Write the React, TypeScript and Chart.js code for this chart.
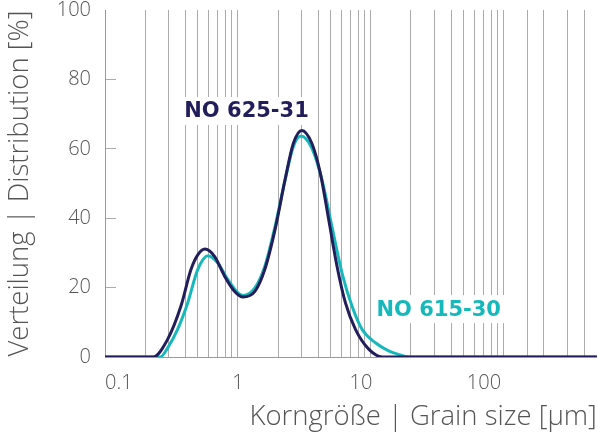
import React, { useEffect, useRef } from 'react';
import { Chart, registerables } from 'chart.js';

Chart.register(...registerables);

// Grain size (µm) and distribution (%) for each product
const navySizes = [0.1, 0.23, 0.295, 0.372, 0.443, 0.5, 0.565, 0.666, 0.793, 0.944, 1.09, 1.34, 1.59, 1.9, 2.26, 2.61, 3.02, 3.59, 4.16, 4.81, 5.56, 6.43, 7.66, 9.66, 12.2, 500];
const navyValues = [0, 0, 5, 14.6, 25.2, 29.5, 31.1, 29.0, 23.3, 18.9, 17.3, 18.9, 25.2, 36.7, 51.1, 61.6, 65.3, 61.6, 53, 39.6, 26.1, 15.6, 7.9, 2.2, 0, 0];

const tealSizes = [0.1, 0.26, 0.3, 0.35, 0.418, 0.498, 0.593, 0.705, 0.84, 1.09, 1.34, 1.59, 1.9, 2.26, 2.61, 2.98, 3.59, 4.28, 5.09, 6.06, 7.21, 8.59, 10.8, 13.7, 16.3, 19.5, 500];
const tealValues = [0, 0, 3.0, 7.8, 15.5, 25.2, 29.2, 27.1, 22.3, 17.7, 19.9, 26.1, 37.6, 51, 60.7, 63.7, 60.2, 51.1, 37.6, 24.2, 14.6, 7.9, 4.1, 1.7, 0.7, 0, 0];

const seriesNames = ['NO 625-31', 'NO 615-30'];

// Axis grid / tick values
const xGridValues = [0.1, 0.2, 0.3, 0.4, 0.5, 0.6, 0.7, 0.8, 0.9, 1, 2, 3, 4, 5, 6, 7, 8, 9, 10, 20, 30, 40, 50, 60, 70, 80, 90, 100, 150, 200, 300, 400];
const xLabelValues = [0.1, 1, 10, 100];
const xLabelTexts = ['0.1', '1', '10\u2003', '100\u2003\u2003'];
const yTickValues = [0, 20, 40, 60, 80, 100];

// Series name labels anchored in data coordinates (µm, %)
const labelSizes = [1.16, 32.3];
const labelPercents = [70.9, 13.8];

const NAVY = '#221d5b';
const TEAL = '#17b8bb';
const GRID = '#ababab';
const TEXT = '#555555';
const FONT = "'Open Sans', 'DejaVu Sans', sans-serif";

const seriesLabelPlugin = {
  id: 'seriesLabelPlugin',
  beforeDatasetsDraw(chart: any) {
    const { ctx, scales } = chart;
    const colors = [NAVY, TEAL];
    ctx.save();
    ctx.font = "bold 21px 'DejaVu Sans', sans-serif";
    ctx.textAlign = 'center';
    ctx.textBaseline = 'middle';
    seriesNames.forEach((name, i) => {
      const cx = scales.x.getPixelForValue(labelSizes[i]);
      const cy = scales.y.getPixelForValue(labelPercents[i]);
      const w = ctx.measureText(name).width;
      ctx.fillStyle = '#ffffff';
      ctx.fillRect(cx - w / 2 - 4, cy - 14, w + 8, 28);
      ctx.fillStyle = colors[i];
      ctx.fillText(name, cx, cy + 1);
    });
    ctx.restore();
  },
};

export default function App() {
  const canvasRef = useRef<HTMLCanvasElement | null>(null);

  useEffect(() => {
    if (!canvasRef.current) return;
    const chart = new Chart(canvasRef.current, {
      type: 'line',
      data: {
        datasets: [
          {
            label: seriesNames[0],
            data: navySizes.map((x, i) => ({ x, y: navyValues[i] })),
            borderColor: NAVY,
            borderWidth: 3,
            pointRadius: 0,
            cubicInterpolationMode: 'monotone',
            fill: false,
          },
          {
            label: seriesNames[1],
            data: tealSizes.map((x, i) => ({ x, y: tealValues[i] })),
            borderColor: TEAL,
            borderWidth: 3,
            pointRadius: 0,
            cubicInterpolationMode: 'monotone',
            fill: false,
          },
        ],
      },
      options: {
        responsive: false,
        animation: false,
        layout: { padding: { top: 10, right: 0, bottom: 0, left: 0 } },
        plugins: {
          legend: { display: false },
          tooltip: { enabled: false },
        },
        scales: {
          x: {
            type: 'logarithmic',
            min: 0.1,
            max: 500,
            afterBuildTicks: (s: any) => {
              s.ticks = xGridValues.map((v) => ({ value: v }));
            },
            afterFit: (s: any) => {
              s.height = 80;
            },
            grid: { color: GRID, lineWidth: 1, drawTicks: false },
            border: { color: '#999999', width: 1 },
            ticks: {
              autoSkip: false,
              maxRotation: 0,
              minRotation: 0,
              align: 'inner',
              padding: 14,
              color: TEXT,
              font: { family: FONT, size: 20, weight: '300' },
              callback: (v: any) => {
                const k = xLabelValues.indexOf(Number(v));
                return k >= 0 ? xLabelTexts[k] : '';
              },
            },
            title: {
              display: true,
              text: 'Korngröße | Grain size [µm]',
              align: 'end',
              color: TEXT,
              font: { family: FONT, size: 27.5, weight: '300' },
              padding: { top: 0, bottom: 3 },
            },
          },
          y: {
            type: 'linear',
            min: 0,
            max: 100,
            afterBuildTicks: (s: any) => {
              s.ticks = yTickValues.map((v) => ({ value: v }));
            },
            afterFit: (s: any) => {
              s.width = 105;
              s.paddingTop = 0;
              s.paddingBottom = 0;
            },
            grid: {
              drawOnChartArea: false,
              drawTicks: true,
              tickLength: -11,
              color: GRID,
              tickColor: (c: any) => (c.tick && c.tick.value === 100 ? 'rgba(0,0,0,0)' : GRID),
            },
            border: { color: '#999999', width: 1 },
            ticks: {
              padding: 25,
              color: TEXT,
              font: { family: FONT, size: 20, weight: '300' },
              callback: (v: any) => String(v),
            },
            title: {
              display: true,
              text: 'Verteilung | Distribution [%]',
              color: TEXT,
              font: { family: FONT, size: 27.5, weight: '300' },
              padding: { top: 4, bottom: 0 },
            },
          },
        },
      } as any,
      plugins: [seriesLabelPlugin],
    });
    return () => chart.destroy();
  }, []);

  return (
    <div style={{ position: 'absolute', left: 0, top: 0, width: 598, height: 437, background: '#fff' }}>
      <canvas ref={canvasRef} width={598} height={437} style={{ display: 'block' }} />
    </div>
  );
}
